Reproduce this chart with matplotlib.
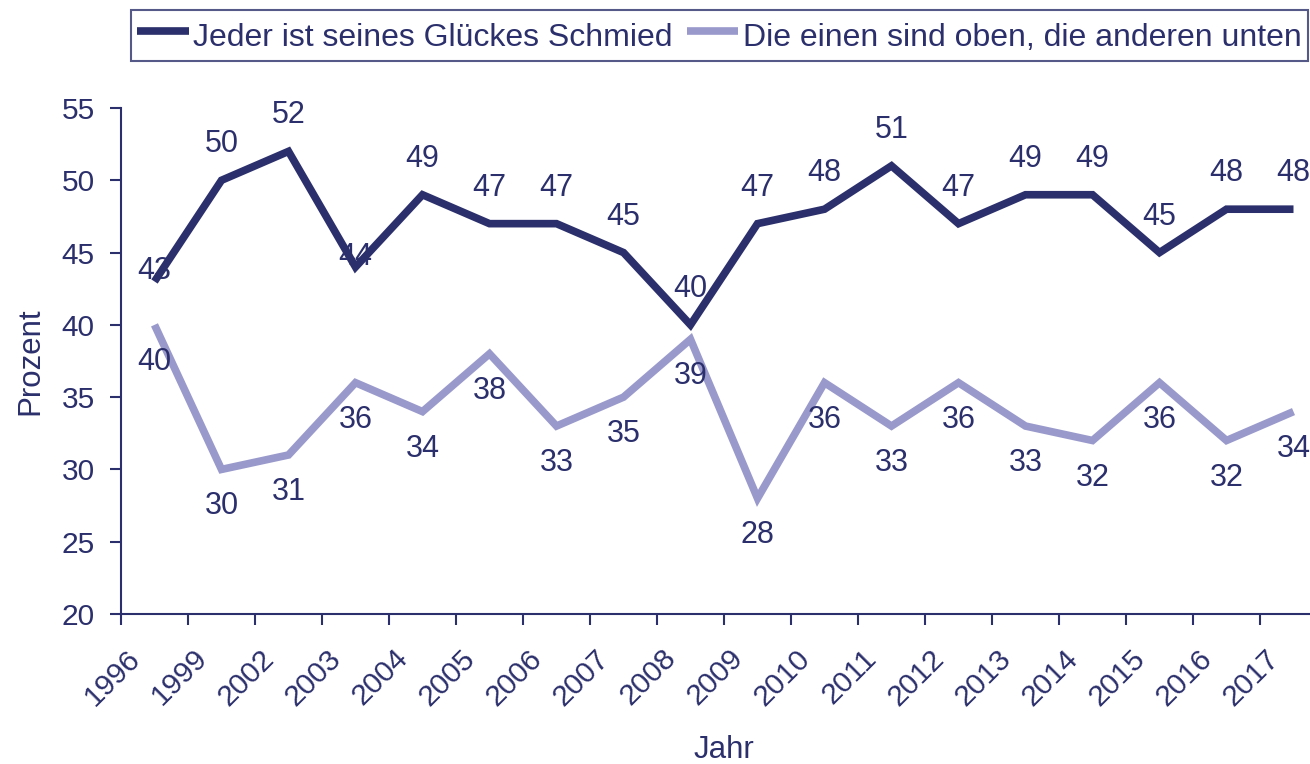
import matplotlib
matplotlib.use('Agg')
import matplotlib.pyplot as plt
import matplotlib.transforms as mtransforms
import numpy as np

# Data
years = ['1996', '1999', '2002', '2003', '2004', '2005', '2006', '2007', '2008',
         '2009', '2010', '2011', '2012', '2013', '2014', '2015', '2016', '2017']
schmied = [43, 50, 52, 44, 49, 47, 47, 45, 40, 47, 48, 51, 47, 49, 49, 45, 48, 48]
oben_unten = [40, 30, 31, 36, 34, 38, 33, 35, 39, 28, 36, 33, 36, 33, 32, 36, 32, 34]
label_schmied = 'Jeder ist seines Glückes Schmied'
label_oben = 'Die einen sind oben, die anderen unten'

navy = '#2b2f6b'
lilac = '#9999cc'

plt.rcParams['font.family'] = ['Liberation Sans', 'DejaVu Sans']

fig = plt.figure(figsize=(13.1, 7.64), dpi=100)
W, H = 1310, 764
ax = fig.add_axes([121 / W, 1 - 614 / H, 1206 / W, (614 - 108) / H])

x = np.arange(len(years)) + 0.5
l1, = ax.plot(x, schmied, color=navy, lw=5.5, solid_capstyle='butt', solid_joinstyle='miter')
l2, = ax.plot(x, oben_unten, color=lilac, lw=5.5, solid_capstyle='butt', solid_joinstyle='miter')

# data labels: dark above, light below (two dark ones sit closer to the line)
for i, v in enumerate(schmied):
    dy = 36
    if i in (0, 3):
        dy = 10
    ax.annotate(str(v), (x[i], v), xytext=(0, dy * 0.72), textcoords='offset points',
                ha='center', va='center', color=navy, fontsize=22, clip_on=False)
for i, v in enumerate(oben_unten):
    ax.annotate(str(v), (x[i], v), xytext=(0, -37 * 0.72), textcoords='offset points',
                ha='center', va='center', color=navy, fontsize=22, clip_on=False)

ax.set_xlim(0, len(years))
ax.set_ylim(20, 55)
ax.set_yticks(range(20, 56, 5))
ax.set_xticks(x)
ax.set_xticklabels(years, rotation=45, ha='right', va='center', rotation_mode='anchor')
ax.set_xticks(np.arange(len(years) + 1), minor=True)
ax.tick_params(axis='x', which='major', length=0, pad=0, colors=navy, labelsize=21.5)
ax.tick_params(axis='x', which='minor', length=8, width=1.5, color=navy, direction='out')
ax.tick_params(axis='y', length=8, width=1.5, color=navy, labelcolor=navy, pad=11, labelsize=21.5)

offset = mtransforms.ScaledTranslation(-19 / 100, -40 / 100, fig.dpi_scale_trans)
for lab in ax.get_xticklabels():
    lab.set_transform(lab.get_transform() + offset)

for side in ['top', 'right']:
    ax.spines[side].set_visible(False)
for side in ['left', 'bottom']:
    ax.spines[side].set_color(navy)
    ax.spines[side].set_linewidth(1.5)

ax.set_ylabel('Prozent', color=navy, fontsize=22.5)
ax.yaxis.set_label_coords(-(121 - 30) / 1206, 0.5, transform=ax.transAxes)
ax.yaxis.label.set_va('center')
ax.set_xlabel('Jahr', color=navy, fontsize=22.5)
ax.xaxis.set_label_coords(0.5, -(750 - 614) / (614 - 108), transform=ax.transAxes)
ax.xaxis.label.set_va('center')

leg = fig.legend([l1, l2], [label_schmied, label_oben], loc='upper left',
                 bbox_to_anchor=(131 / W, 1 - 10 / H), ncol=2, frameon=True,
                 fancybox=False, edgecolor=navy, fontsize=23, handlelength=1.6,
                 handleheight=1.45, handletextpad=0.15, columnspacing=0.45,
                 borderpad=0.2, borderaxespad=0)
leg.get_frame().set_linewidth(1.5)
for t in leg.get_texts():
    t.set_color(navy)

fig.savefig('out.png', dpi=100)
